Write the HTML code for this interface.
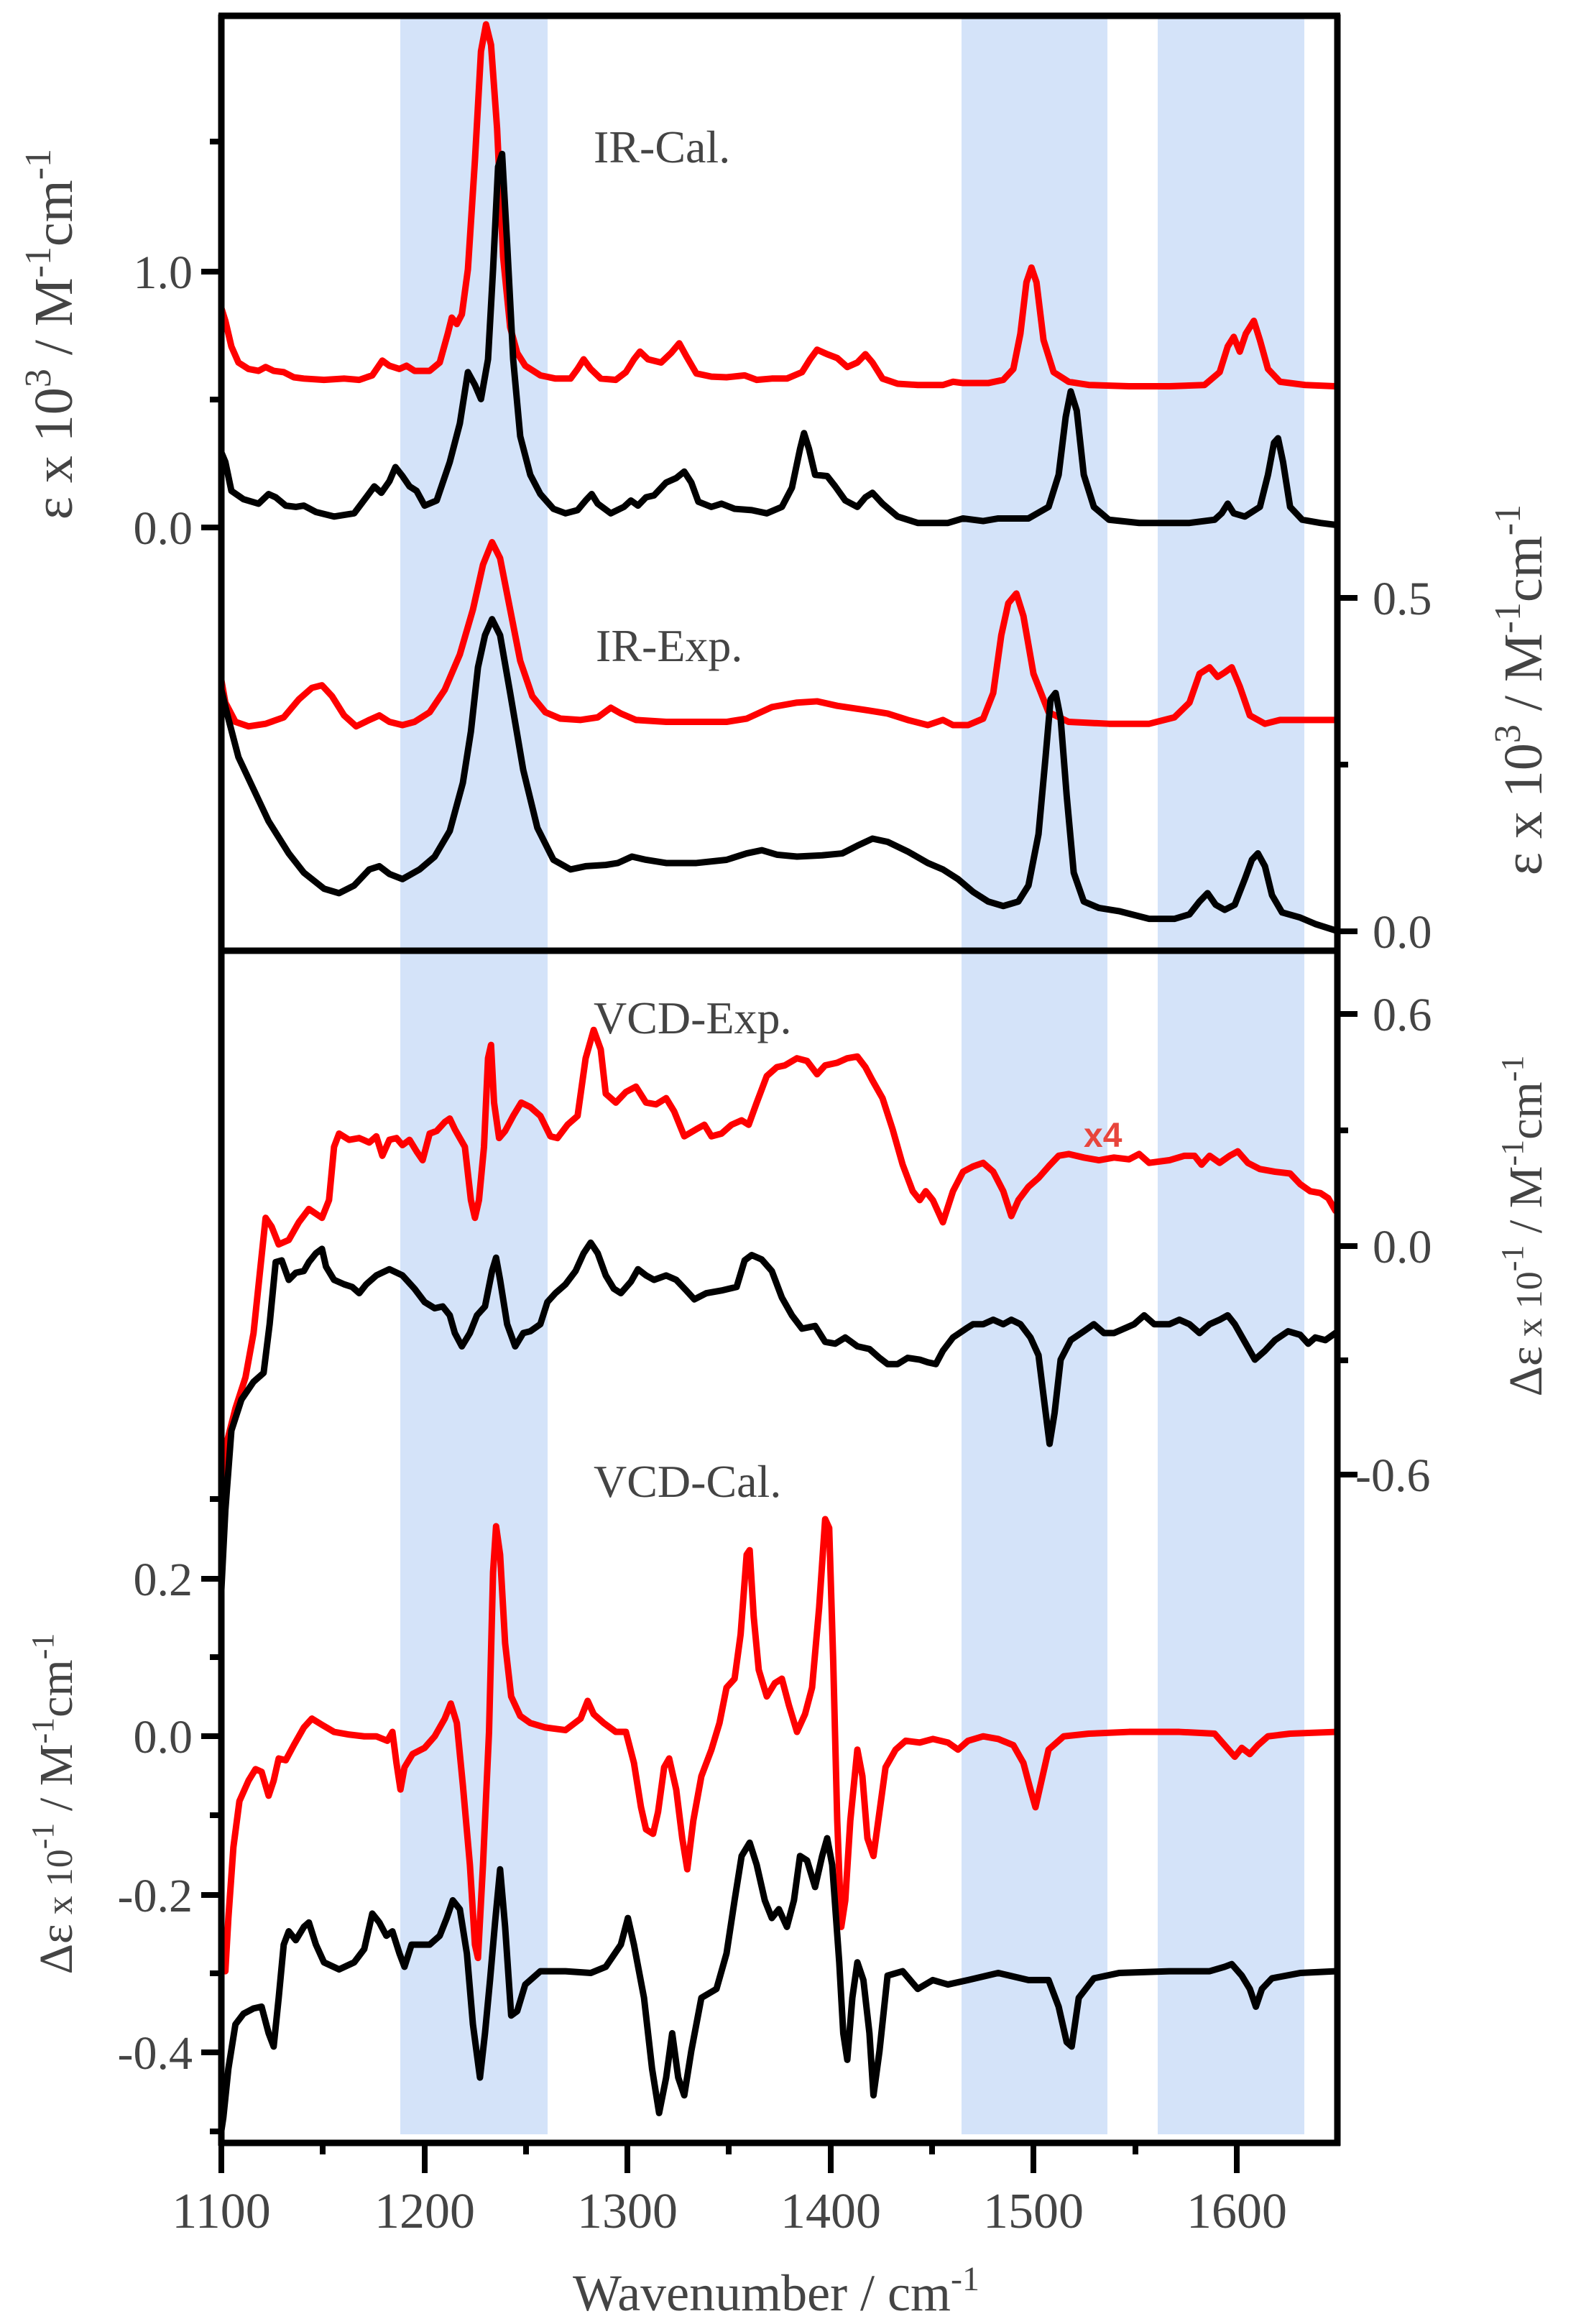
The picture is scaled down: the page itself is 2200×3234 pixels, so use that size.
<!DOCTYPE html>
<html><head><meta charset="utf-8"><style>
html,body{margin:0;padding:0;background:#fff;}
svg{display:block;}
.t{font-family:"Liberation Serif",serif;fill:#444;}
</style></head><body>
<svg width="2200" height="3234" viewBox="0 0 2200 3234" xmlns="http://www.w3.org/2000/svg">
<rect width="2200" height="3234" fill="#fff"/>
<!-- bands -->
<g fill="#d4e3f9">
<rect x="557" y="26" width="205" height="2944"/>
<rect x="1338" y="26" width="203" height="2944"/>
<rect x="1611" y="26" width="204" height="2944"/>
</g>
<!-- top curves -->
<g transform="translate(2.7,0) scale(1.4004,0.8929)" fill="none" stroke-linejoin="round" stroke-linecap="round">
<polyline vector-effect="non-scaling-stroke" stroke="#ff0000" stroke-width="9" points="218,480 222,500 228,540 235,565 245,575 255,578 262,572 270,578 280,580 290,588 300,590 320,592 340,590 355,592 368,585 378,562 385,570 395,575 402,570 410,578 425,578 435,565 443,520 447,495 452,505 457,490 463,420 470,250 476,80 481,38 486,70 492,200 498,400 505,510 512,550 520,570 535,585 550,590 565,590 572,575 578,560 585,575 595,590 610,592 620,580 628,560 634,548 642,560 655,565 665,550 673,535 680,555 690,582 705,587 720,588 738,585 750,592 765,590 780,590 795,580 803,560 810,545 820,552 830,558 840,572 850,565 858,552 865,565 875,590 890,598 910,600 935,600 945,595 955,597 980,597 995,592 1005,575 1012,520 1018,440 1023,417 1028,440 1035,530 1045,580 1060,595 1080,600 1120,602 1160,602 1195,600 1210,580 1218,540 1224,525 1230,548 1236,520 1244,500 1250,530 1258,575 1270,595 1295,600 1325,602"/>
<polyline vector-effect="non-scaling-stroke" stroke="#000" stroke-width="9" points="218,705 222,720 228,765 240,778 255,785 265,770 272,775 282,788 292,790 300,788 312,798 330,805 350,800 362,775 370,758 377,768 385,750 391,728 398,742 405,758 412,765 420,788 432,780 445,720 455,660 463,580 470,600 476,622 483,560 488,420 493,260 497,240 502,380 508,560 515,680 525,740 535,770 548,793 560,800 572,795 580,780 586,770 592,785 605,800 618,790 625,780 632,788 640,775 648,772 660,752 670,745 678,735 685,752 692,782 705,790 715,785 728,793 745,795 760,800 775,790 785,760 793,700 797,675 802,700 808,740 820,742 828,758 838,780 850,790 858,775 865,768 875,785 890,805 910,815 940,815 955,808 975,812 990,808 1020,808 1040,790 1050,740 1057,650 1062,610 1068,640 1075,740 1085,790 1100,810 1130,815 1180,815 1205,810 1212,800 1218,785 1224,800 1235,805 1250,790 1258,740 1264,690 1268,683 1273,720 1280,790 1292,810 1310,815 1325,818"/>
<polyline vector-effect="non-scaling-stroke" stroke="#ff0000" stroke-width="9" points="218,1060 222,1095 232,1125 245,1132 262,1128 280,1118 295,1090 308,1072 318,1068 328,1085 340,1115 352,1132 365,1122 375,1115 385,1125 398,1130 410,1125 425,1110 440,1075 455,1020 468,950 478,880 487,845 495,870 505,950 515,1030 527,1085 540,1110 555,1120 575,1122 592,1118 605,1103 615,1112 630,1122 660,1125 690,1125 720,1125 740,1120 765,1102 790,1095 810,1093 830,1100 860,1107 880,1112 900,1122 920,1130 935,1122 945,1130 960,1130 975,1120 985,1080 993,990 1000,940 1008,925 1015,960 1025,1050 1040,1110 1060,1125 1100,1128 1140,1128 1165,1118 1180,1095 1190,1050 1200,1040 1208,1055 1215,1048 1222,1040 1230,1070 1240,1115 1255,1128 1270,1122 1300,1122 1325,1122"/>
<polyline vector-effect="non-scaling-stroke" stroke="#000" stroke-width="9" points="218,1075 225,1120 235,1180 250,1230 265,1280 285,1330 300,1360 320,1385 335,1392 350,1380 365,1355 375,1350 385,1362 398,1370 415,1355 430,1335 445,1295 458,1220 466,1140 473,1040 480,990 487,965 495,990 505,1080 518,1200 532,1290 548,1340 565,1355 580,1350 600,1348 612,1345 626,1335 640,1340 660,1345 690,1345 720,1340 740,1330 755,1325 770,1332 790,1335 815,1333 835,1330 850,1318 865,1307 880,1312 900,1327 920,1345 935,1355 950,1370 965,1390 980,1405 995,1412 1010,1405 1020,1380 1030,1300 1037,1180 1042,1090 1047,1080 1052,1120 1058,1240 1065,1360 1075,1405 1090,1415 1110,1420 1140,1432 1165,1432 1180,1425 1190,1405 1198,1392 1206,1410 1215,1418 1225,1410 1235,1370 1242,1340 1248,1330 1255,1350 1262,1395 1272,1422 1290,1430 1305,1440 1325,1450"/>
</g>
<!-- bottom curves -->
<g transform="translate(2.7,1300) scale(1.4004,1.2334)" fill="none" stroke-linejoin="round" stroke-linecap="round">
<polyline vector-effect="non-scaling-stroke" stroke="#ff0000" stroke-width="9" points="218,625 222,580 232,535 242,500 250,450 256,385 262,320 268,330 275,350 285,345 295,325 305,310 318,320 325,300 330,240 335,225 345,232 355,230 365,235 372,228 378,250 385,232 392,230 398,238 405,232 412,245 418,255 425,225 432,222 440,212 445,208 450,220 460,240 466,300 470,320 474,300 479,240 483,140 486,125 489,190 494,230 500,222 508,205 516,190 525,195 535,205 545,228 552,230 562,215 572,205 580,140 588,108 595,130 600,180 610,190 620,178 630,172 640,190 650,192 660,185 668,200 678,228 690,220 698,215 705,228 715,225 725,215 735,210 742,215 750,190 760,160 770,150 778,148 790,140 800,143 810,158 818,148 830,145 840,140 850,138 858,150 865,165 875,185 885,220 895,260 905,290 912,300 918,290 925,300 935,325 945,290 955,268 965,262 975,258 985,268 995,290 1003,318 1010,300 1020,285 1030,275 1040,262 1050,250 1060,248 1075,252 1090,255 1105,252 1120,254 1130,248 1140,258 1160,255 1175,250 1185,250 1192,260 1200,250 1210,258 1220,250 1228,245 1238,258 1250,265 1265,268 1280,270 1290,282 1300,290 1310,292 1318,298 1325,312"/>
<polyline vector-effect="non-scaling-stroke" stroke="#000" stroke-width="9" points="218,740 222,650 228,560 238,525 250,505 260,495 266,440 272,370 278,368 285,390 292,382 300,380 305,370 312,360 318,355 322,375 330,390 340,395 348,398 355,405 362,395 372,385 385,378 398,385 410,400 420,415 430,422 438,420 445,430 450,450 457,465 465,450 472,430 480,420 487,380 491,365 495,390 502,440 510,465 518,450 525,448 535,440 542,415 550,405 560,395 570,380 578,360 585,348 592,360 600,385 608,400 615,405 625,392 632,378 640,385 648,390 660,385 670,390 680,402 688,412 700,405 715,402 730,398 738,368 745,362 755,367 765,380 775,410 785,430 795,445 808,442 818,460 828,462 838,455 850,465 862,468 872,478 880,485 890,485 900,478 912,480 920,483 928,485 935,470 945,455 958,445 965,440 975,440 985,435 995,440 1003,435 1012,440 1022,455 1030,475 1036,530 1041,575 1046,540 1052,480 1062,458 1075,448 1085,440 1095,450 1105,450 1115,445 1125,440 1135,430 1145,440 1160,440 1170,435 1180,440 1190,450 1200,440 1210,435 1218,430 1225,440 1235,460 1245,480 1255,470 1265,458 1278,448 1290,452 1298,462 1305,455 1315,458 1325,450"/>
<polyline vector-effect="non-scaling-stroke" stroke="#ff0000" stroke-width="9" points="222,1170 225,1110 230,1030 236,978 245,955 252,942 258,945 265,972 270,955 275,930 282,932 290,915 300,895 308,885 318,892 330,900 345,903 360,905 372,905 383,910 388,900 392,935 396,965 400,940 408,925 420,918 430,905 440,885 446,868 452,890 458,960 465,1050 470,1140 473,1155 478,1050 484,900 488,720 491,668 495,700 500,800 506,860 515,882 525,890 540,895 560,898 575,885 582,865 588,880 598,890 610,900 620,900 628,935 635,985 640,1010 647,1015 652,990 658,940 663,930 670,965 676,1020 681,1055 687,1000 695,950 705,920 713,890 720,850 728,840 734,790 740,700 743,695 747,770 752,830 760,860 768,845 775,840 782,870 790,900 798,880 805,850 812,760 818,660 822,670 826,820 830,1000 834,1120 838,1090 843,1000 850,920 855,950 860,1020 866,1040 872,990 878,940 888,920 898,910 912,912 925,908 940,912 950,920 960,910 975,905 990,908 1005,915 1015,935 1022,965 1027,985 1032,960 1040,920 1055,905 1080,902 1120,900 1170,900 1205,902 1215,915 1225,928 1232,918 1240,925 1248,915 1258,905 1280,902 1325,900"/>
<polyline vector-effect="non-scaling-stroke" stroke="#000" stroke-width="9" points="218,1350 220,1335 225,1280 232,1230 240,1218 250,1212 258,1210 265,1240 270,1255 275,1200 280,1140 285,1125 292,1135 300,1120 305,1115 312,1140 320,1160 335,1168 350,1160 360,1145 368,1105 375,1115 382,1130 388,1125 395,1150 400,1165 407,1140 415,1140 425,1140 435,1130 442,1110 448,1090 455,1100 462,1150 468,1230 475,1290 480,1240 485,1180 490,1115 495,1055 500,1120 506,1220 512,1215 520,1185 535,1170 560,1170 585,1172 600,1165 615,1140 622,1110 628,1140 638,1200 646,1280 653,1330 660,1290 666,1240 672,1290 678,1310 685,1260 695,1200 710,1190 720,1150 728,1090 735,1040 743,1025 750,1050 758,1090 765,1110 772,1100 780,1120 787,1090 793,1040 800,1045 808,1075 815,1040 820,1020 825,1050 832,1160 836,1240 840,1270 845,1200 850,1160 856,1180 862,1240 866,1310 872,1260 880,1175 895,1170 910,1190 925,1180 940,1185 960,1180 990,1172 1020,1180 1040,1180 1050,1210 1058,1250 1063,1255 1070,1200 1085,1178 1110,1172 1160,1170 1200,1170 1215,1165 1222,1162 1232,1175 1240,1190 1246,1210 1252,1190 1262,1178 1290,1172 1325,1170"/>
</g>
<!-- frame -->
<g stroke="#000" stroke-width="9" fill="none">
<line x1="308" y1="20" x2="308" y2="2986"/>
<line x1="1861" y1="20" x2="1861" y2="2986"/>
<line x1="304" y1="22" x2="1865" y2="22"/>
<line x1="304" y1="1323" x2="1865" y2="1323"/>
<line x1="304" y1="2982" x2="1865" y2="2982"/>
</g>
<g stroke="#000" stroke-width="8">
<line x1="280" y1="378" x2="308" y2="378"/><line x1="280" y1="734" x2="308" y2="734"/>
<line x1="292" y1="197" x2="308" y2="197"/><line x1="292" y1="556" x2="308" y2="556"/>
<line x1="1861" y1="832" x2="1889" y2="832"/><line x1="1861" y1="1296" x2="1889" y2="1296"/>
<line x1="1861" y1="1064" x2="1876" y2="1064"/>
<line x1="1861" y1="1411" x2="1889" y2="1411"/><line x1="1861" y1="1734" x2="1889" y2="1734"/><line x1="1861" y1="2052" x2="1889" y2="2052"/>
<line x1="1861" y1="1573" x2="1876" y2="1573"/><line x1="1861" y1="1893" x2="1876" y2="1893"/>
<line x1="280" y1="2197" x2="308" y2="2197"/><line x1="280" y1="2416" x2="308" y2="2416"/><line x1="280" y1="2637" x2="308" y2="2637"/><line x1="280" y1="2856" x2="308" y2="2856"/>
<line x1="292" y1="2086" x2="308" y2="2086"/><line x1="292" y1="2306" x2="308" y2="2306"/><line x1="292" y1="2526" x2="308" y2="2526"/><line x1="292" y1="2746" x2="308" y2="2746"/><line x1="292" y1="2966" x2="308" y2="2966"/>
<line x1="308" y1="2982" x2="308" y2="3024"/><line x1="591" y1="2982" x2="591" y2="3024"/><line x1="873" y1="2982" x2="873" y2="3024"/><line x1="1156" y1="2982" x2="1156" y2="3024"/><line x1="1438" y1="2982" x2="1438" y2="3024"/><line x1="1721" y1="2982" x2="1721" y2="3024"/>
<line x1="449" y1="2982" x2="449" y2="2998"/><line x1="732" y1="2982" x2="732" y2="2998"/><line x1="1014" y1="2982" x2="1014" y2="2998"/><line x1="1297" y1="2982" x2="1297" y2="2998"/><line x1="1580" y1="2982" x2="1580" y2="2998"/>
</g>
<g class="t" font-size="66">
<text x="268" y="401" text-anchor="end">1.0</text>
<text x="268" y="757" text-anchor="end">0.0</text>
<text x="1910" y="855">0.5</text>
<text x="1910" y="1319">0.0</text>
<text x="1910" y="1434">0.6</text>
<text x="1910" y="1757">0.0</text>
<text x="1886" y="2075">-0.6</text>
<text x="268" y="2220" text-anchor="end">0.2</text>
<text x="268" y="2439" text-anchor="end">0.0</text>
<text x="268" y="2660" text-anchor="end">-0.2</text>
<text x="268" y="2879" text-anchor="end">-0.4</text>
</g>
<g class="t" font-size="70" text-anchor="middle">
<text x="308" y="3100">1100</text><text x="591" y="3100">1200</text><text x="873" y="3100">1300</text>
<text x="1156" y="3100">1400</text><text x="1438" y="3100">1500</text><text x="1721" y="3100">1600</text>
<text x="1080" y="3215" font-size="72">Wavenumber / cm<tspan dy="-28" font-size="48">-1</tspan></text>
</g>
<g class="t" font-size="64">
<text x="826" y="226">IR-Cal.</text>
<text x="829" y="920">IR-Exp.</text>
<text x="826" y="1438">VCD-Exp.</text>
<text x="826" y="2083">VCD-Cal.</text>
</g>
<text x="1508" y="1596" font-family="Liberation Sans,sans-serif" font-weight="bold" font-size="48" fill="#e8453c">x4</text>
<g class="t" font-size="76" text-anchor="middle">
<text transform="translate(100,465) rotate(-90)">ε x 10<tspan dy="-30" font-size="52">3</tspan><tspan dy="30"> / M</tspan><tspan dy="-30" font-size="52">-1</tspan><tspan dy="30">cm</tspan><tspan dy="-30" font-size="52">-1</tspan></text>
<text transform="translate(2145,960) rotate(-90)">ε x 10<tspan dy="-30" font-size="52">3</tspan><tspan dy="30"> / M</tspan><tspan dy="-30" font-size="52">-1</tspan><tspan dy="30">cm</tspan><tspan dy="-30" font-size="52">-1</tspan></text>
</g>
<g class="t" font-size="66" text-anchor="middle">
<text transform="translate(2145,1706) rotate(-90)">Δε<tspan font-size="52"> x 10</tspan><tspan dy="-26" font-size="44">-1</tspan><tspan dy="26"> / M</tspan><tspan dy="-26" font-size="44">-1</tspan><tspan dy="26">cm</tspan><tspan dy="-26" font-size="44">-1</tspan></text>
<text transform="translate(100,2510) rotate(-90)">Δε<tspan font-size="52"> x 10</tspan><tspan dy="-26" font-size="44">-1</tspan><tspan dy="26"> / M</tspan><tspan dy="-26" font-size="44">-1</tspan><tspan dy="26">cm</tspan><tspan dy="-26" font-size="44">-1</tspan></text>
</g>
</svg>
</body></html>
